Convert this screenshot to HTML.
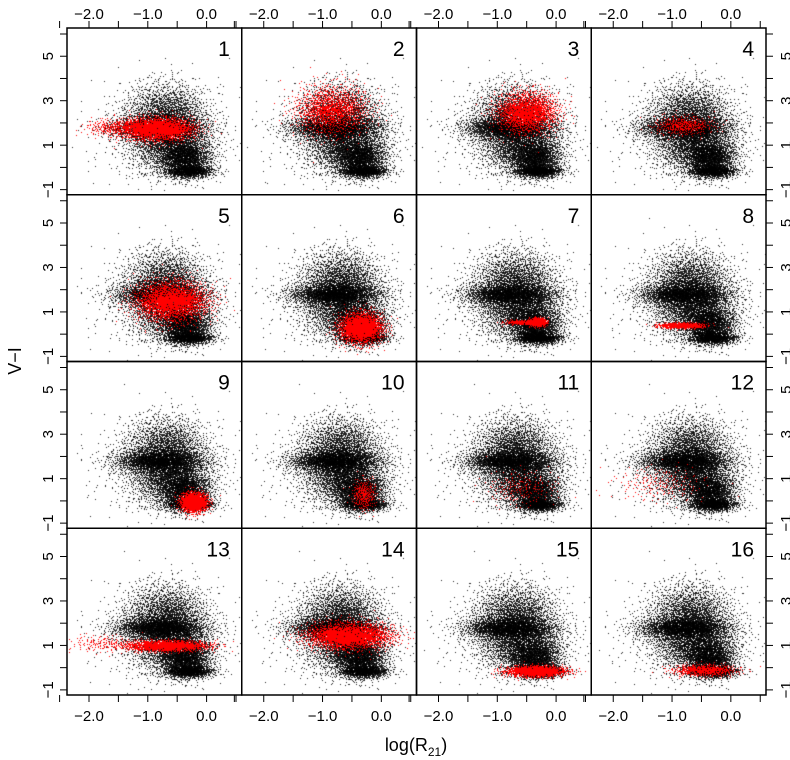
<!DOCTYPE html>
<html><head><meta charset="utf-8">
<style>
body{margin:0;background:#fff;}
#wrap{position:relative;width:790px;height:760px;overflow:hidden;font-family:"Liberation Sans",sans-serif;}
canvas,svg{position:absolute;left:0;top:0;}
</style></head>
<body>
<div id="wrap">
<canvas id="cv" width="790" height="760"></canvas>
<svg id="sv" width="790" height="760"></svg>
</div>
<script>
// ---- data ----
const xTicks = [-2.0, -1.0, 0.0];
const xTickLabels = ["\u22122.0", "\u22121.0", "0.0"];
const yTicks = [5, 3, 1, -1];
const yTickLabels = ["5", "3", "1", "\u22121"];
const panelLabels = ["1","2","3","4","5","6","7","8","9","10","11","12","13","14","15","16"];
// background (black) cloud components: centerX, centerY, sdX, sdY, count
const bgCx = [-0.8, -0.7, -0.35, -0.3, -0.8, -0.7, -0.5];
const bgCy = [1.8, 1.7, 0.4, -0.15, 1.5, 2.6, 0.8];
const bgSx = [0.38, 0.36, 0.2, 0.2, 0.7, 0.32, 0.3];
const bgSy = [0.26, 0.9, 0.4, 0.14, 1.2, 0.6, 0.5];
const bgN  = [2200, 3000, 1500, 1100, 300, 900, 1400];
// red highlighted components per panel
const redPanel = [0,0, 1, 2, 3, 4, 5, 6,6, 7, 8, 9, 10, 11, 12,12, 13, 14, 15];
const redCx = [-0.85,-1.6, -0.85, -0.5, -0.8, -0.6, -0.35, -0.32,-0.6, -0.85, -0.22, -0.3, -0.6, -1.2, -0.7,-1.8, -0.55, -0.35, -0.45];
const redCy = [1.75,1.8, 2.6, 2.5, 1.9, 1.5, 0.3, 0.55,0.55, 0.4, -0.05, 0.3, 0.6, 0.8, 1.0,1.1, 1.45, -0.15, -0.1];
const redSx = [0.3,0.25, 0.3, 0.25, 0.25, 0.3, 0.18, 0.07,0.15, 0.18, 0.11, 0.1, 0.3, 0.4, 0.35,0.3, 0.35, 0.25, 0.27];
const redSy = [0.26,0.2, 0.55, 0.45, 0.22, 0.45, 0.35, 0.09,0.05, 0.06, 0.22, 0.35, 0.4, 0.4, 0.12,0.2, 0.3, 0.12, 0.13];
const redN  = [2300,250, 1500, 2000, 400, 2500, 2000, 600,200, 800, 1500, 300, 200, 200, 1600,150, 2500, 1500, 600];

// ---- geometry ----
const X0=67, Y0=28, PW=174.75, PH=166.75;
const xMin=-2.374, xMax=0.598, yMin=-1.23, yMax=6.27;
function sx(col,v){return X0+col*PW+(v-xMin)/(xMax-xMin)*PW;}
function sy(row,v){return Y0+row*PH+(yMax-v)/(yMax-yMin)*PH;}

// quasi-random (Halton) sequence for point placement
function halton(i,b){let f=1,r=0;while(i>0){f/=b;r+=f*(i%b);i=Math.floor(i/b);}return r;}
function gauss(i){const u1=Math.max(halton(i,2),1e-6),u2=halton(i,3),u3=halton(i,5);
  const r=Math.sqrt(-2*Math.log(u1));return [r*Math.cos(2*Math.PI*u2),r*Math.sin(2*Math.PI*u2)*(0.9+0.2*u3)];}

const ctx=document.getElementById('cv').getContext('2d');
function drawComp(p,cx,cy,sdx,sdy,n,seed,color){
  const col=p%4,row=Math.floor(p/4);ctx.fillStyle=color;
  const l=X0+col*PW+1,r=X0+(col+1)*PW-1,t=Y0+row*PH+1,b=Y0+(row+1)*PH-1;
  for(let i=1;i<=n;i++){const g=gauss(i+seed);
    const px=sx(col,cx+g[0]*sdx),py=sy(row,cy+g[1]*sdy);
    if(px<l||px>r||py<t||py>b)continue;ctx.fillRect(Math.round(px),Math.round(py),1,1);}
}
for(let p=0;p<16;p++){
  for(let k=0;k<bgCx.length;k++)drawComp(p,bgCx[k],bgCy[k],bgSx[k],bgSy[k],bgN[k],k*7919+p*13,'rgba(0,0,0,0.85)');
}
for(let k=0;k<redPanel.length;k++)drawComp(redPanel[k],redCx[k],redCy[k],redSx[k],redSy[k],redN[k],k*3571+101,'#ff0000');

// ---- axes ----
const NS='http://www.w3.org/2000/svg',sv=document.getElementById('sv');
function el(tag,attrs,txt){const e=document.createElementNS(NS,tag);for(const k in attrs)e.setAttribute(k,attrs[k]);if(txt!==undefined)e.textContent=txt;sv.appendChild(e);return e;}
for(let p=0;p<16;p++){const col=p%4,row=Math.floor(p/4);
  const r=el('rect',{x:X0+col*PW,y:Y0+row*PH,width:PW,height:PH,fill:'none',stroke:'#000','stroke-width':1.5});
  
  
  const t=el('text',{x:X0+(col+1)*PW-12,y:Y0+row*PH+28,'text-anchor':'end','font-size':21,fill:'#000'},panelLabels[p]);
  
  
}
for(let col=0;col<4;col++){
  for(let v=-2.5;v<=0.51;v+=0.5){const x=sx(col,v);
    el('line',{x1:x,x2:x,y1:Y0,y2:Y0-7,stroke:'#000'});
    el('line',{x1:x,x2:x,y1:Y0+4*PH,y2:Y0+4*PH+7,stroke:'#000'});}
  xTicks.forEach((v,i)=>{const x=sx(col,v);
    const a=el('text',{x:x,y:19,'text-anchor':'middle','font-size':15},xTickLabels[i]);
    
    
    const b=el('text',{x:x,y:721,'text-anchor':'middle','font-size':15},xTickLabels[i]);
    
    });
}
for(let row=0;row<4;row++){
  for(let v=-1;v<=6;v++){const y=sy(row,v);
    el('line',{x1:X0,x2:X0-7,y1:y,y2:y,stroke:'#000'});
    el('line',{x1:X0+4*PW,x2:X0+4*PW+7,y1:y,y2:y,stroke:'#000'});}
  yTicks.forEach((v,i)=>{const y=sy(row,v);
    const a=el('text',{x:0,y:0,'text-anchor':'middle','font-size':15,transform:`translate(53,${y}) rotate(-90)`},yTickLabels[i]);
    
    
    const b=el('text',{x:0,y:0,'text-anchor':'middle','font-size':15,transform:`translate(791,${y}) rotate(-90)`},yTickLabels[i]);
    
    });
}
const yt=el('text',{x:0,y:0,'text-anchor':'middle','font-size':18,transform:'translate(21,361) rotate(-90)'},'V\u2212I');


const xt=el('text',{x:416,y:751,'text-anchor':'middle','font-size':18},'');


xt.appendChild(document.createTextNode('log(R'));
const sub=document.createElementNS(NS,'tspan');sub.setAttribute('font-size','12');sub.setAttribute('dy','5');sub.textContent='21';xt.appendChild(sub);
const cl=document.createElementNS(NS,'tspan');cl.setAttribute('dy','-5');cl.textContent=')';xt.appendChild(cl);
</script>
</body></html>
